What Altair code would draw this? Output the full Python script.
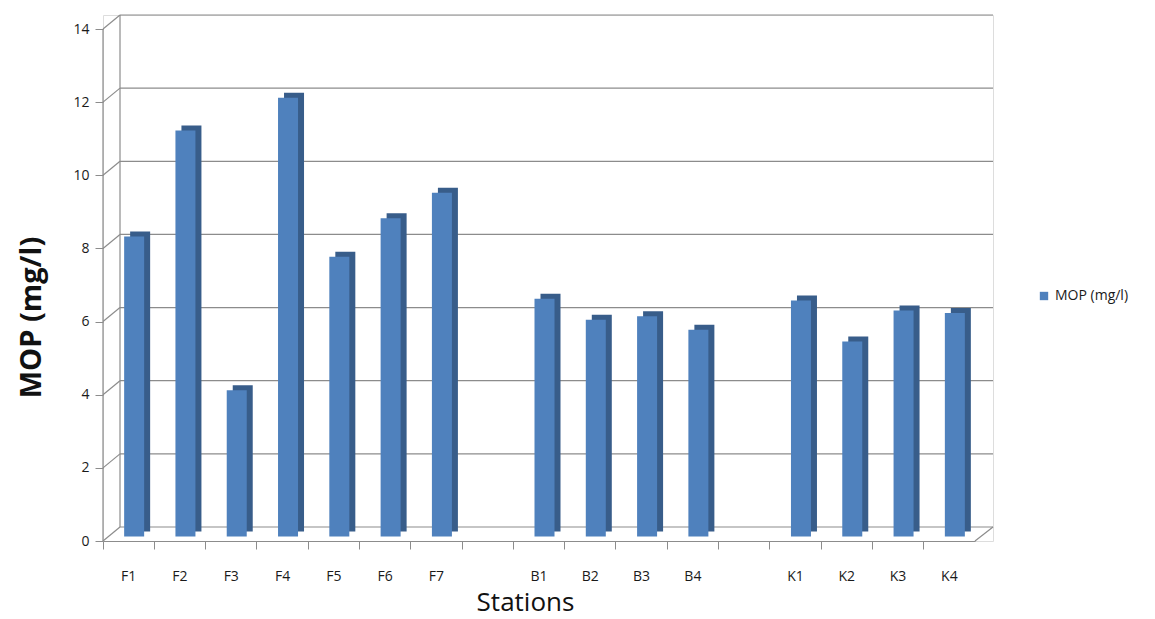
import altair as alt
import pandas as pd

# ---- data ----
stations = ["F1", "F2", "F3", "F4", "F5", "F6", "F7", " ",
            "B1", "B2", "B3", "B4", "  ",
            "K1", "K2", "K3", "K4"]
mop = [8.2, 11.1, 4.0, 12.0, 7.65, 8.7, 9.4, None,
       6.5, 5.93, 6.02, 5.65, None,
       6.45, 5.33, 6.18, 6.11]
y_ticks = [0, 2, 4, 6, 8, 10, 12, 14]
series_name = "MOP (mg/l)"

# ---- layout constants (pixels) ----
W, H = 890, 526
BAND_W = 872
DEPTH_X = 17
DEPTH_V = 14 * 14 / 512.0          # value shift that equals ~14 px vertically
Y_MAX = 14 + DEPTH_V

FRONT = "#4f81bd"
SIDE = "#385d8a"
GRID = "#8c8c8c"
FONT = "Open Sans"

bars = pd.DataFrame({"station": stations, "mop": mop, "series": series_name})
grid = pd.DataFrame({"v": y_ticks})

xs = alt.Scale(domain=stations, range=[0, BAND_W], paddingInner=0, paddingOuter=0)
ys = alt.Scale(domain=[0, Y_MAX], nice=False, zero=True)

x_enc = alt.X("station:N", scale=xs, sort=stations,
              axis=alt.Axis(title="Stations", labelAngle=0, bandPosition=0,
                            domain=True, domainColor=GRID, tickColor=GRID,
                            tickSize=8, labelPadding=20, labelFontSize=14,
                            labelColor="#1a1a1a", labelFont=FONT,
                            titleFont=FONT, titleFontSize=26, titleFontWeight="normal",
                            titleColor="#111", titleX=422, titleY=61,
                            titleBaseline="middle", titleAlign="center"))

# back wall gridlines
back = alt.Chart(grid).transform_calculate(vb=f"datum.v + {DEPTH_V}").mark_rule(
    color=GRID, strokeWidth=1.2).encode(
    y=alt.Y("vb:Q", scale=ys,
            axis=alt.Axis(values=y_ticks, title="MOP (mg/l)", grid=False, domain=False,
                          tickColor=GRID, tickSize=8, labelPadding=6,
                          labelFontSize=14, labelColor="#1a1a1a", labelFont=FONT,
                          titleFont=FONT, titleFontSize=29, titleFontWeight="bold",
                          titleColor="#111", titleX=-72, titleY=302,
                          titleAngle=-90, titleAlign="center", titleBaseline="middle")),
    x=alt.value(DEPTH_X), x2=alt.value(W))

# side-wall diagonals
diag = alt.Chart(grid).transform_calculate(vb=f"datum.v + {DEPTH_V}").mark_rule(
    color=GRID, strokeWidth=1.2).encode(
    y=alt.Y("v:Q", scale=ys), y2="vb:Q",
    x=alt.value(0), x2=alt.value(DEPTH_X))

# left wall vertical edge and front y-axis line
walls = pd.DataFrame({"lo": [DEPTH_V, 0], "hi": [Y_MAX, 14], "xp": [DEPTH_X, 0]})
wall = alt.Chart(walls).mark_rule(color=GRID, strokeWidth=1.2).encode(
    y=alt.Y("lo:Q", scale=ys), y2="hi:Q", x=alt.X("xp:Q", scale=None))

# right floor diagonal
floor_r = alt.Chart(pd.DataFrame({"a": [0], "b": [DEPTH_V]})).mark_rule(
    color=GRID, strokeWidth=1.2).encode(
    y=alt.Y("a:Q", scale=ys), y2="b:Q", x=alt.value(BAND_W), x2=alt.value(W))

# 3D-ish bars: dark shifted body then front face
side = alt.Chart(bars).mark_bar(color=SIDE, size=20, xOffset=11.5, yOffset=-9.5).encode(
    x=x_enc, y=alt.Y("mop:Q", scale=ys))
front = alt.Chart(bars).mark_bar(size=20, xOffset=5.5, yOffset=-4.5).encode(
    x=x_enc, y=alt.Y("mop:Q", scale=ys),
    color=alt.Color("series:N", scale=alt.Scale(range=[FRONT]),
                    legend=alt.Legend(title=None, orient="none", legendX=934, legendY=274,
                                      symbolType="square", symbolSize=70,
                                      symbolStrokeWidth=0, labelFontSize=14,
                                      labelFont=FONT, labelColor="#1a1a1a", padding=0)))

chart = alt.layer(back, diag, wall, floor_r, side, front).properties(
    width=W, height=H,
    autosize=alt.AutoSizeParams(type="none"),
    padding={"left": 95, "top": 7, "right": 150, "bottom": 78},
).configure_view(stroke=None).configure(background="white")

chart.save("out.html", embed_options={"renderer": "svg", "actions": False})
